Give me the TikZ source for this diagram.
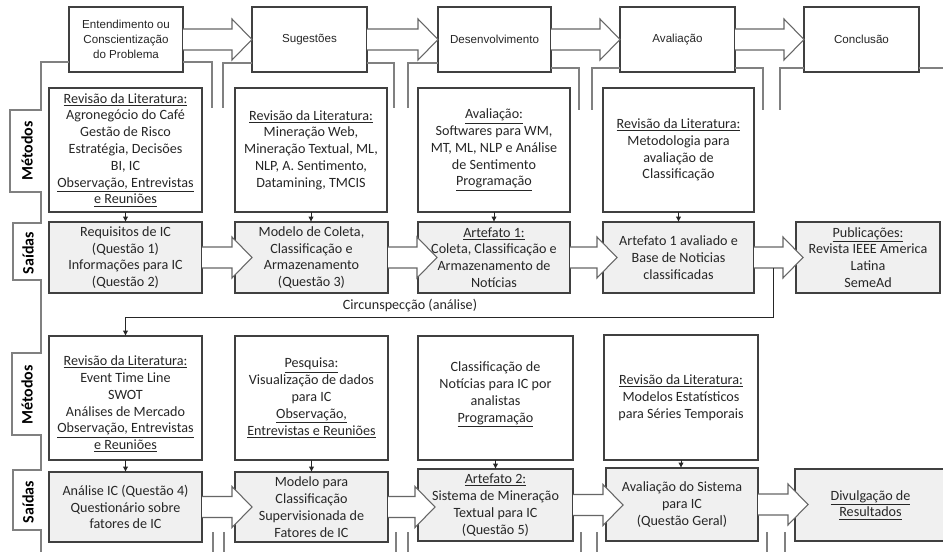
\documentclass[tikz,border=0pt]{standalone}
\usepackage{fontspec}
\setmainfont{Carlito}
\newfontfamily\stepfont{Liberation Sans}
\usetikzlibrary{calc,arrows.meta}

\tikzset{
  sz/.style 2 args={minimum width=#1*0.75pt, minimum height=#2*0.75pt},
  stepbox/.style={draw=black!75, fill=white, line width=0.8pt, inner sep=0pt, outer sep=0pt,
    align=center, text=black!85, font=\stepfont\fontsize{8.7}{11.25}\selectfont},
  methbox/.style={draw=black!75, fill=white, line width=0.8pt, inner sep=0pt, outer sep=0pt,
    align=center, text=black!85, font=\fontsize{10.6}{12.6}\selectfont},
  outbox/.style={methbox, fill=black!6},
  lanetag/.style={rotate=90, font=\bfseries\fontsize{12}{14}\selectfont, text=black},
  frame/.style={draw=black!50, line width=0.8pt},
  barrow/.style={draw=black!60, fill=white, line width=0.8pt, line join=miter},
  flow/.style={draw=black!85, line width=0.6pt, -{Latex[length=4pt,width=4pt]}},
  note/.style={font=\fontsize{10.6}{12.6}\selectfont, text=black!85},
}

% wide hollow arrow between two stages; optional argument = how far the tip enters the target
\newcommand\stagearrow[3][0]{%
  \filldraw[barrow]
    ($(#2.east)+(0,-10.5)$)
    -- ($(#3.west |- #2.east)+(#1-20,-10.5)$)
    -- ($(#3.west |- #2.east)+(#1-20,-20.5)$)
    -- ($(#3.west |- #2.east)+(#1,0)$)
    -- ($(#3.west |- #2.east)+(#1-20,20.5)$)
    -- ($(#3.west |- #2.east)+(#1-20,10.5)$)
    -- ($(#2.east)+(0,10.5)$);}

\begin{document}
\begin{tikzpicture}[x=0.75pt,y=-0.75pt]
\useasboundingbox (0,0) rectangle (943,552);
\fill[white] (0,0) rectangle (943,552);

% ---------- design science steps ----------
\node[stepbox, sz={114}{65}] (S1) at (126,39.5) {Entendimento ou\\Conscientização\\do Problema};
\node[stepbox, sz={115}{65}] (S2) at (309.5,39.5) {Sugestões};
\node[stepbox, sz={113}{65}] (S3) at (494.5,39.5) {Desenvolvimento};
\node[stepbox, sz={115}{65}] (S4) at (677.5,39.5) {Avaliação};
\node[stepbox, sz={115}{65}] (S5) at (861.5,39.5) {Conclusão};

% ---------- lane frame and step brackets ----------
\draw[frame] (S1.west |- 0,62) -| (41,110) -- (10,110) -- (10,192) -- (41,192)
  -- (41,223) -- (13,223) -- (13,280) -- (41,280)
  -- (41,353) -- (12,353) -- (12,435) -- (41,435)
  -- (41,470) -- (13,470) -- (13,530) -- (41,530) -- (41,552);
\draw[frame] (S1.east |- 0,62) -| (212,108);
\draw[frame] (S2.west |- 0,63) -| (223,108);
\draw[frame] (S2.east |- 0,63) -| (394,108);
\draw[frame] (S3.west |- 0,63) -| (408,108);
\draw[frame] (S3.east |- 0,68) -| (579,110);
\draw[frame] (S4.west |- 0,68) -| (592,110);
\draw[frame] (S4.east |- 0,68) -| (763,110);
\draw[frame] (S5.west |- 0,68) -| (780,110);
\draw[frame] (S5.east |- 0,68) -- (943,68);
\foreach \x in {213,224,396,408,581,597,767,785}
  \draw[frame] (\x,532) -- (\x,552);

\node[lanetag] (tagM1) at (27,151) {Métodos};
\node[lanetag] (tagS1) at (28,253) {Saídas};
\node[lanetag] (tagM2) at (27,395) {Métodos};
\node[lanetag] (tagS2) at (28,502) {Saídas};

% ---------- first cycle: methods ----------
\node[methbox, sz={153}{124}] (M1) at (125.5,150) {\underline{Revisão da Literatura:}\\Agronegócio do Café\\Gestão de Risco\\Estratégia, Decisões\\BI, IC\\\underline{Observação, Entrevistas}\\\underline{e Reuniões}};
\node[methbox, sz={152}{124}] (M2) at (311,150) {\underline{Revisão da Literatura:}\\Mineração Web,\\Mineração Textual, ML,\\NLP, A. Sentimento,\\Datamining, TMCIS};
\node[methbox, sz={152}{124}] (M3) at (494,150) {\underline{Avaliação:}\\Softwares para WM,\\MT, ML, NLP e Análise\\de Sentimento\\\underline{Programação}};
\node[methbox, sz={151}{124}] (M4) at (678.5,150) {\underline{Revisão da Literatura:}\\Metodologia para\\avaliação de\\Classificação};

% ---------- first cycle: outputs ----------
\node[outbox, sz={153}{71}] (O1) at (125.5,257.5) {Requisitos de IC\\(Questão 1)\\Informações para IC\\(Questão 2)};
\node[outbox, sz={153}{71}] (O2) at (311.5,257.5) {Modelo de Coleta,\\Classificação e\\Armazenamento\\(Questão 3)};
\node[outbox, sz={152}{71}] (O3) at (494,257.5) {\underline{Artefato 1:}\\Coleta, Classificação e\\Armazenamento de\\Notícias};
\node[outbox, sz={151}{71}] (O4) at (678.5,257.5) {Artefato 1 avaliado e\\Base de Noticias\\classificadas};
\node[outbox, sz={144}{71}] (O5) at (868,257.5) {\underline{Publicações:}\\Revista IEEE America\\Latina\\SemeAd};

% ---------- second cycle: methods ----------
\node[methbox, sz={153}{124}] (MB1) at (125.5,398) {\rule{0pt}{16.5pt}\underline{Revisão da Literatura:}\\Event Time Line\\SWOT\\Análises de Mercado\\\underline{Observação, Entrevistas}\\\underline{e Reuniões}};
\node[methbox, sz={153}{124}] (MB2) at (311.5,398) {\underline{Pesquisa:}\\Visualização de dados\\para IC\\\underline{Observação,}\\\underline{Entrevistas e Reuniões}};
\node[methbox, sz={155}{124}] (MB3) at (495.5,398) {Classificação de\\Notícias para IC por\\analistas\\\underline{Programação}\rule[-9pt]{0pt}{0pt}};
\node[methbox, sz={154}{125}] (MB4) at (681,397.5) {\underline{Revisão da Literatura:}\\Modelos Estatísticos\\para Séries Temporais};

% ---------- second cycle: outputs ----------
\node[outbox, sz={153}{70}] (OB1) at (125.5,507) {Análise IC (Questão 4)\\Questionário sobre\\fatores de IC};
\node[outbox, sz={153}{70}] (OB2) at (311.5,507) {Modelo para\\Classificação\\Supervisionada de\\Fatores de IC};
\node[outbox, sz={155}{72}] (OB3) at (495.5,505) {\underline{Artefato 2:}\\Sistema de Mineração\\Textual para IC\\(Questão 5)};
\node[outbox, sz={152}{73}] (OB4) at (682,504.5) {Avaliação do Sistema\\para IC\\(Questão Geral)};
\node[outbox, sz={151}{72}] (OB5) at (870.5,505) {\underline{Divulgação de}\\\underline{Resultados}};

% ---------- method -> output ----------
\foreach \m/\o in {M1/O1,M2/O2,M3/O3,M4/O4,MB1/OB1,MB2/OB2,MB3/OB3,MB4/OB4}
  \draw[flow] (\m.south) -- (\m.south |- \o.north);

% ---------- stage arrows ----------
\stagearrow{S1}{S2}
\stagearrow{S2}{S3}
\stagearrow{S3}{S4}
\stagearrow{S4}{S5}
\stagearrow[17]{O1}{O2}
\stagearrow[19]{O2}{O3}
\stagearrow[14]{O3}{O4}
\stagearrow[7]{O4}{O5}
\stagearrow[17]{OB1}{OB2}
\stagearrow[17]{OB2}{OB3}
\stagearrow[17]{OB3}{OB4}
\stagearrow[13]{OB4}{OB5}

% ---------- circumspection loop ----------
\coordinate (fbstart) at ($(O4.east)!0.45!(O5.west)+(0,10.5)$);
\draw[flow] (fbstart) -- ++(0,49) -| (MB1.north);
\node[note] (circ) at (410,306) {Circunspecção (análise)};

\end{tikzpicture}
\end{document}
